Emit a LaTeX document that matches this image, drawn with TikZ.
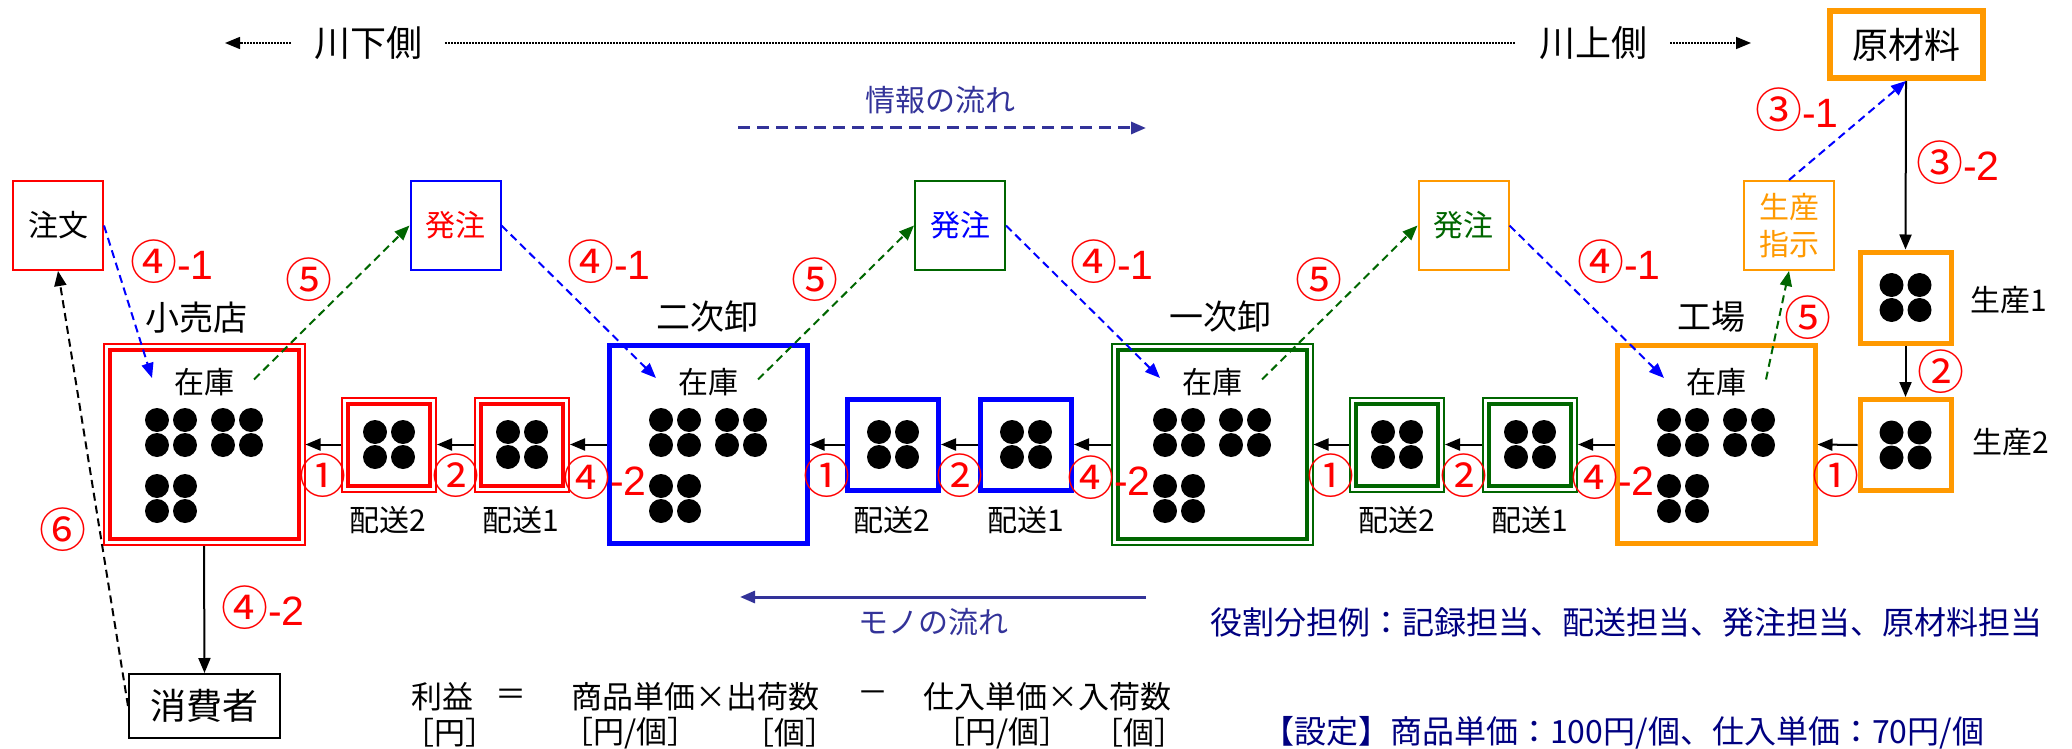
\documentclass[tikz,border=0pt]{standalone}
\usepackage{fontspec}
\setmainfont{Noto Sans CJK JP}
\newfontfamily\numfont{Liberation Sans}
\usepackage{tikz}
\usetikzlibrary{positioning,arrows.meta}

\definecolor{hred}{RGB}{255,0,0}
\definecolor{hblue}{RGB}{0,0,255}
\definecolor{hgreen}{RGB}{0,102,0}
\definecolor{horange}{RGB}{255,153,0}
\definecolor{flowc}{RGB}{51,51,153}
\definecolor{navyc}{RGB}{0,0,128}
\newcommand{\fsz}[1]{\fontsize{#1}{#1}\selectfont}
\newcommand{\nsuf}[1]{{\numfont\fsz{41}#1}}

\tikzset{
    thinbox/.style={draw, line width=2pt, minimum width=90pt, minimum height=89pt, inner sep=0pt},
    bigdbl/.style={draw, line width=4pt, minimum size=189pt, outer sep=7pt},
    bigthick/.style={draw, line width=5pt, minimum size=198pt},
    smdbl/.style={draw, line width=4pt, minimum size=82pt, outer sep=7pt},
    smthick/.style={draw, line width=5pt, minimum size=91pt},
    numlab/.style={text=hred, font=\fsz{47}, inner sep=0pt},
    tip/.style={-{Triangle[length=15pt,width=12pt]}},
    arr/.style={tip, line width=2pt},
    dasharr/.style={tip, line width=2pt, dash pattern=on 8pt off 5pt},
    dotline/.style={line width=1.5pt, dash pattern=on 1.5pt off 1.5pt}
}

\begin{document}
\begin{tikzpicture}[x=1pt,y=-1pt,font=\fsz{30}]
    \useasboundingbox (0,0) rectangle (2072,749);

    % upstream / downstream
    \node[font=\fsz{36}, inner xsep=23pt] (kawashimo) at (368,43) {川下側};
    \node[font=\fsz{36}, inner xsep=23pt] (kawakami) at (1593,43) {川上側};
    \coordinate (dsL) at (225,43);
    \coordinate (dsR) at (1751,43);
    \draw[dotline, tip] (kawashimo.west) -- (dsL);
    \draw[dotline] (kawashimo.east) -- (kawakami.west);
    \draw[dotline, tip] (kawakami.east) -- (dsR);

    % flow of information / goods
    \node[text=flowc] (joho) at (940,100) {情報の流れ};
    \coordinate (infoL) at (738,128);
    \coordinate (infoR) at (1146,128);
    \draw[flowc, line width=3pt, dash pattern=on 12pt off 7pt, tip] (infoL) -- (infoR);
    \node[text=flowc] (mono) at (933,622) {モノの流れ};
    \coordinate (monoR) at (1146,597);
    \coordinate (monoL) at (740,597);
    \draw[flowc, line width=3pt, tip] (monoR) -- (monoL);

    % stages
    \node[bigdbl, draw=hred] (retail) at (204,444.5) {};
    \node[bigthick, draw=hblue] (niji) at (708,444.5) {};
    \node[bigdbl, draw=hgreen] (ichi) at (1212,444.5) {};
    \node[bigthick, draw=horange] (kojo) at (1716,444.5) {};
    \node[font=\fsz{34}] at (196,318) {小売店};
    \node[font=\fsz{34}] at (707,317) {二次卸};
    \node[font=\fsz{34}] at (1220,317) {一次卸};
    \node[font=\fsz{34}] at (1711,317) {工場};

    % deliveries
    \node[smdbl, draw=hred] (rhai2) at (389,444.5) {};
    \node[smdbl, draw=hred] (rhai1) at (522,444.5) {};
    \node[smthick, draw=hblue] (bhai2) at (893,444.5) {};
    \node[smthick, draw=hblue] (bhai1) at (1026,444.5) {};
    \node[smdbl, draw=hgreen] (ghai2) at (1397,444.5) {};
    \node[smdbl, draw=hgreen] (ghai1) at (1530,444.5) {};
    \node[smthick, draw=horange] (sei2) at (1905.5,445) {};
    \node[smthick, draw=horange] (sei1) at (1905.5,297.5) {};
    \foreach \x/\t in {388/配送2, 521/配送1, 892/配送2, 1026/配送1, 1397/配送2, 1530/配送1}
        \node at (\x,520) {\t};
    \node at (2009,300) {生産1};
    \node at (2011,442) {生産2};

    % outer line of the double frames
    \foreach \n/\c in {retail/hred, rhai2/hred, rhai1/hred, ichi/hgreen, ghai2/hgreen, ghai1/hgreen}
        \draw[\c, line width=2pt] ([shift={(1,-1)}]\n.south west) rectangle ([shift={(-1,1)}]\n.north east);

    % stock
    \foreach \b in {retail, niji, ichi, kojo} {
        \node at ([shift={(0,-62.5)}]\b.center) {在庫};
        \foreach \cx/\cy in {-33/-12, 33/-12, -33/54}
            \foreach \dx in {-14,14}
                \foreach \dy in {-12.5,12.5}
                    \fill ([shift={(\cx+\dx,\cy+\dy)}]\b.center) circle (12);
        \coordinate (\b-in) at ([shift={(-52,-66.5)}]\b.center);
        \coordinate (\b-out) at ([shift={(50,-65)}]\b.center);
    }
    \foreach \b in {rhai2, rhai1, bhai2, bhai1, ghai2, ghai1, sei1, sei2}
        \foreach \dx in {-14,14}
            \foreach \dy in {-12.5,12.5}
                \fill ([shift={(\dx,\dy)}]\b.center) circle (12);

    % orders
    \node[thinbox, draw=hred] (chumon) at (58,225.5) {注文};
    \node[thinbox, draw=hblue, text=hred] (hatchu1) at (455.5,225.5) {発注};
    \node[thinbox, draw=hgreen, text=hblue] (hatchu2) at (960,225.5) {発注};
    \node[thinbox, draw=horange, text=hgreen] (hatchu3) at (1463.5,225.5) {発注};
    \node[thinbox, draw=horange, text=horange, align=center, font=\fontsize{30}{37}\selectfont] (shiji) at (1789,225.5) {生産\\指示};
    \node[draw=horange, line width=6pt, minimum width=153pt, minimum height=67pt, font=\fsz{36}] (genzai) at (1906,44.5) {原材料};
    \node[draw, line width=2pt, minimum width=151pt, minimum height=64pt, font=\fsz{36}] (shohi) at (204.5,706) {消費者};

    % goods
    \foreach \a/\b in {rhai2/retail, rhai1/rhai2, niji/rhai1, bhai2/niji, bhai1/bhai2, ichi/bhai1, ghai2/ichi, ghai1/ghai2, kojo/ghai1, sei2/kojo}
        \draw[arr] (\a.west) -- (\b.east);
    \draw[arr] (genzai.south) -- (sei1.north);
    \draw[arr] (sei1.south) -- (sei2.north);
    \draw[arr] (retail.south) -- (shohi.north);

    % information
    \draw[dasharr, hblue] (chumon.east) -- (retail-in);
    \draw[dasharr, hgreen] (retail-out) -- (hatchu1.west);
    \draw[dasharr, hblue] (hatchu1.east) -- (niji-in);
    \draw[dasharr, hgreen] (niji-out) -- (hatchu2.west);
    \draw[dasharr, hblue] (hatchu2.east) -- (ichi-in);
    \draw[dasharr, hgreen] (ichi-out) -- (hatchu3.west);
    \draw[dasharr, hblue] (hatchu3.east) -- (kojo-in);
    \draw[dasharr, hgreen] (kojo-out) -- (shiji.south);
    \draw[dasharr, hblue] (shiji.north) -- (genzai.south);
    \draw[dasharr] (shohi.west) -- (chumon.south);

    % step numbers
    \foreach \x in {323,827,1331,1836}
        \node[numlab] at (\x,476) {①};
    \foreach \x in {456,960,1464}
        \node[numlab] at (\x,476) {②};
    \node[numlab] at (1941,372) {②};
    \foreach \x in {563,1067,1571}
        \node[numlab, anchor=west] at (\x,478) {④\nsuf{-2}};
    \node[numlab] at (263,608) {④\nsuf{-2}};
    \foreach \x in {172,609,1112,1619}
        \node[numlab] at (\x,262) {④\nsuf{-1}};
    \foreach \x in {309,815,1319}
        \node[numlab] at (\x,280) {⑤};
    \node[numlab] at (1808,318) {⑤};
    \node[numlab] at (1797,110) {③\nsuf{-1}};
    \node[numlab] at (1958,163) {③\nsuf{-2}};
    \node[numlab] at (63,530) {⑥};

    % profit
    \node[anchor=west, inner sep=0pt, font=\fsz{31}] at (411,697) {利益};
    \node[font=\fsz{31}] at (511,697) {＝};
    \node[anchor=west, inner sep=0pt, font=\fsz{31}] at (571,697) {商品単価×出荷数};
    \node[font=\fsz{31}] at (873,697) {－};
    \node[anchor=west, inner sep=0pt, font=\fsz{31}] at (923,697) {仕入単価×入荷数};
    \foreach \x/\t in {403/{［円］}, 562/{［円/個］}, 743/{［個］}, 934/{［円/個］}, 1092/{［個］}}
        \node[anchor=west, inner sep=0pt, font=\fsz{31}] at (\x,733) {\t};

    \node[anchor=west, inner sep=0pt, text=navyc, font=\fsz{32}] at (1210,622) {役割分担例：記録担当、配送担当、発注担当、原材料担当};
    \node[anchor=west, inner sep=0pt, text=navyc, font=\fsz{32}] at (1262,733) {【設定】商品単価：100円/個、仕入単価：70円/個};
\end{tikzpicture}
\end{document}
